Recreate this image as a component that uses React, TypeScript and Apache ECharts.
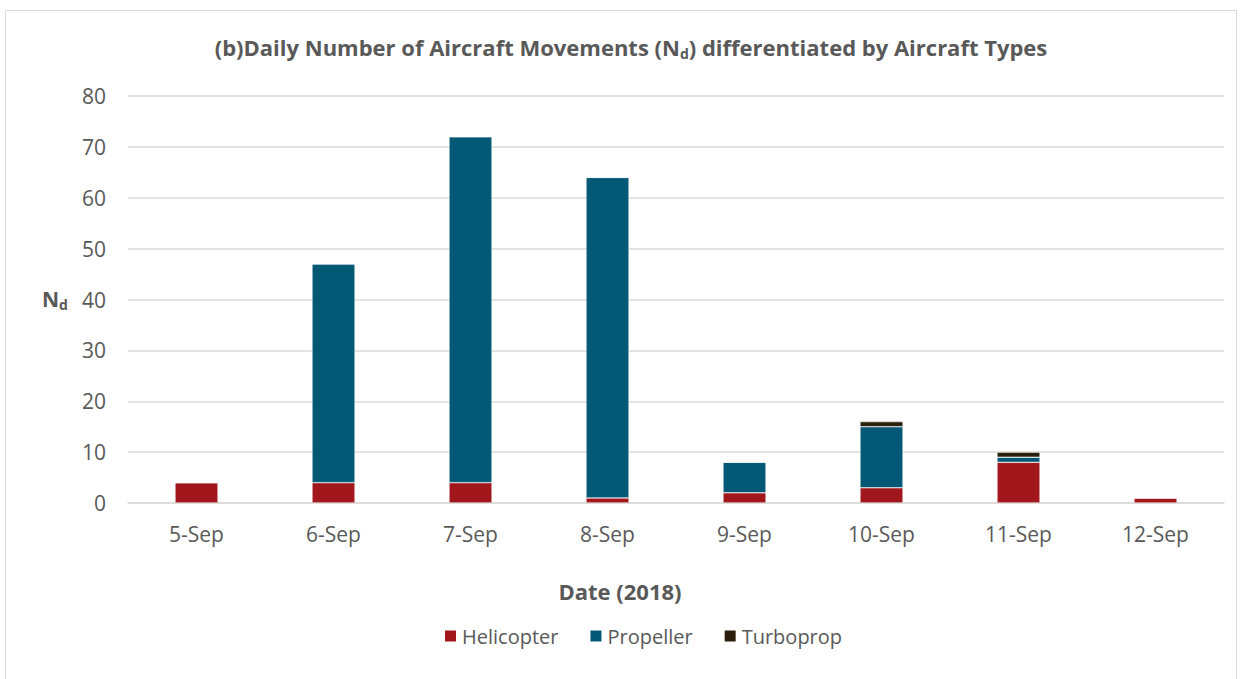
import React, { useEffect, useRef } from "react";
import * as echarts from "echarts";

const categories = ["5-Sep", "6-Sep", "7-Sep", "8-Sep", "9-Sep", "10-Sep", "11-Sep", "12-Sep"];
const helicopter = [4, 4, 4, 1, 2, 3, 8, 1];
const propeller = [0, 43, 68, 63, 6, 12, 1, 0];
const turboprop = [0, 0, 0, 0, 0, 1, 1, 0];
const yTicks = { min: 0, max: 80, interval: 10 };

export default function App() {
  const ref = useRef<HTMLDivElement>(null);
  useEffect(() => {
    const chart = echarts.init(ref.current!, null, { renderer: "svg" });
    const font = "'Open Sans', 'Liberation Sans', sans-serif";
    const mk = (name: string, data: number[], color: string) => ({
      name,
      type: "bar",
      stack: "total",
      data,
      barWidth: 43,
      itemStyle: { color, borderColor: "#ffffff", borderWidth: 0.5 },
    });
    chart.setOption({
      animation: false,
      textStyle: { fontFamily: font },
      title: {
        text: "{t|(b)Daily Number of Aircraft Movements (N}{s|d}{t|) differentiated by Aircraft Types}",
        left: 626,
        textAlign: "center",
        top: 29,
        textStyle: {
          rich: {
            t: { fontSize: 22, fontWeight: "bold", color: "#595959", fontFamily: font },
            s: { fontSize: 14, fontWeight: "bold", color: "#595959", fontFamily: font, padding: [12, 0, 0, 0] },
          },
        },
      },
      graphic: [
        {
          type: "rect",
          shape: { x: 5.5, y: 10.5, width: 1231, height: 700 },
          style: { fill: "none", stroke: "#d9d9d9", lineWidth: 1 },
          silent: true,
        },
        {
          type: "text",
          left: 42,
          top: 288,
          style: {
            text: "{n|N}{d|d}",
            rich: {
              n: { fontSize: 21, fontWeight: "bold", fill: "#595959", fontFamily: font },
              d: { fontSize: 14, fontWeight: "bold", fill: "#595959", fontFamily: font, padding: [12, 0, 0, 0] },
            },
          },
        },
        {
          type: "text",
          x: 620,
          y: 591,
          style: {
            text: "Date (2018)",
            fontSize: 22,
            fontWeight: "bold",
            fill: "#595959",
            fontFamily: font,
            align: "center",
            verticalAlign: "middle",
          },
        },
      ],
      legend: {
        top: 621,
        left: 438,
        itemWidth: 13,
        itemHeight: 13,
        itemGap: 30,
        icon: "rect",
        textStyle: { fontSize: 20, color: "#595959", fontFamily: font },
        data: ["Helicopter", "Propeller", "Turboprop"],
      },
      grid: { left: 128, right: 20, top: 96, bottom: 176 },
      xAxis: {
        type: "category",
        data: categories,
        axisLine: { lineStyle: { color: "#d9d9d9", width: 1.5 } },
        axisTick: { show: false },
        axisLabel: { fontSize: 21, color: "#595959", margin: 20, fontFamily: font },
      },
      yAxis: {
        type: "value",
        min: yTicks.min,
        max: yTicks.max,
        interval: yTicks.interval,
        axisLine: { show: false },
        axisTick: { show: false },
        axisLabel: { fontSize: 21, color: "#595959", margin: 22, fontFamily: font },
        splitLine: { lineStyle: { color: "#d9d9d9", width: 1.5 } },
      },
      series: [
        mk("Helicopter", helicopter, "#a2171c"),
        mk("Propeller", propeller, "#025875"),
        mk("Turboprop", turboprop, "#2a1f0b"),
      ],
    });
    return () => chart.dispose();
  }, []);
  return <div ref={ref} style={{ position: "absolute", left: 0, top: 0, width: 1244, height: 679 }} />;
}
